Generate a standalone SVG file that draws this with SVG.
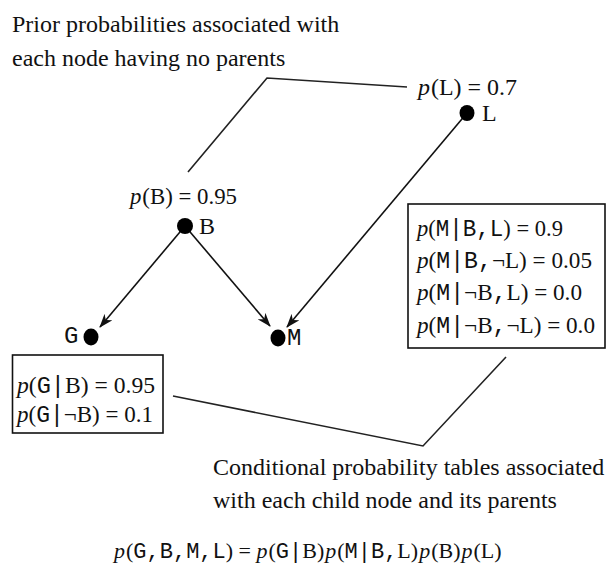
<svg xmlns="http://www.w3.org/2000/svg" width="608" height="577" viewBox="0 0 608 577">
<style>
.s{font-family:"Liberation Serif","Times New Roman",serif;font-size:24px;fill:#111}
.i{font-style:italic}
.t{font-family:"Liberation Mono","Courier New",monospace}
.lead{fill:none;stroke:#222;stroke-width:1.6}
.edge{fill:none;stroke:#111;stroke-width:1.6}
.box{fill:none;stroke:#111;stroke-width:1.6}
.dot{fill:#000}
</style>
<defs>
<marker id="ah" viewBox="0 0 14 10" refX="13" refY="5" markerWidth="14" markerHeight="10" markerUnits="userSpaceOnUse" orient="auto">
<path d="M0,0 L14,5 L0,10 L4,5 z" fill="#111"/>
</marker>
</defs>
<rect width="608" height="577" fill="#fff"/>

<g id="caption-prior">
<text class="s" x="12" y="32">Prior probabilities associated with</text>
<text class="s" x="12" y="66">each node having no parents</text>
</g>

<g id="caption-cpt">
<text class="s" x="213" y="475">Conditional probability tables associated</text>
<text class="s" x="213" y="508">with each child node and its parents</text>
</g>

<g id="connectors">
<polyline class="lead" points="188,172 267,78 407,87"/>
<polyline class="lead" points="173,396 423,446 506,357"/>
<line class="edge" x1="185" y1="226" x2="100" y2="327" marker-end="url(#ah)"/>
<line class="edge" x1="185" y1="226" x2="270" y2="326" marker-end="url(#ah)"/>
<line class="edge" x1="467" y1="113" x2="287" y2="327" marker-end="url(#ah)"/>
</g>

<g id="node-L">
<ellipse class="dot" cx="467" cy="113" rx="7.5" ry="8"/>
<text class="s" x="482" y="121">L</text>
<text class="s" x="418" y="95" textLength="99" lengthAdjust="spacingAndGlyphs"><tspan class="i">p</tspan><tspan dx="1">(L) = 0.7</tspan></text>
</g>

<g id="node-B">
<ellipse class="dot" cx="185" cy="226" rx="8" ry="8"/>
<text class="s" x="199" y="234">B</text>
<text class="s" x="130" y="204" textLength="107" lengthAdjust="spacingAndGlyphs"><tspan class="i">p</tspan><tspan dx="1">(B) = 0.95</tspan></text>
</g>

<g id="node-G">
<ellipse class="dot" cx="91" cy="337" rx="7.5" ry="8.5"/>
<text class="s t" x="64" y="343" font-size="20">G</text>
</g>

<g id="node-M">
<ellipse class="dot" cx="278" cy="338" rx="7.5" ry="8.5"/>
<text class="s t" x="287" y="345" font-size="20">M</text>
</g>

<g id="table-M">
<rect class="box" x="408" y="204" width="197" height="144"/>
<text class="s" x="417" y="236" textLength="146" lengthAdjust="spacingAndGlyphs"><tspan class="i">p</tspan>(<tspan class="t">M|B,L</tspan>) = 0.9</text>
<text class="s" x="417" y="268" textLength="175" lengthAdjust="spacingAndGlyphs"><tspan class="i">p</tspan>(<tspan class="t">M|B,</tspan>¬L) = 0.05</text>
<text class="s" x="417" y="300" textLength="165" lengthAdjust="spacingAndGlyphs"><tspan class="i">p</tspan>(<tspan class="t">M|</tspan>¬B<tspan class="t">,</tspan>L) = 0.0</text>
<text class="s" x="417" y="333" textLength="178" lengthAdjust="spacingAndGlyphs"><tspan class="i">p</tspan>(<tspan class="t">M|</tspan>¬B<tspan class="t">,</tspan>¬L) = 0.0</text>
</g>

<g id="table-G">
<rect class="box" x="12.5" y="355" width="150.5" height="78"/>
<text class="s" x="17" y="393" textLength="138" lengthAdjust="spacingAndGlyphs"><tspan class="i">p</tspan>(<tspan class="t">G|</tspan>B) = 0.95</text>
<text class="s" x="17" y="422" textLength="136" lengthAdjust="spacingAndGlyphs"><tspan class="i">p</tspan>(<tspan class="t">G|</tspan>¬B) = 0.1</text>
</g>

<g id="formula">
<text class="s" x="114" y="558" font-size="22" style="font-size:22px"><tspan class="i">p</tspan><tspan dx="1">(</tspan><tspan class="t">G,B,M,L</tspan>) = <tspan class="i">p</tspan><tspan dx="1">(</tspan><tspan class="t">G|</tspan>B)<tspan class="i" dx="1">p</tspan><tspan dx="1">(</tspan><tspan class="t">M|B,</tspan>L)<tspan class="i" dx="1">p</tspan><tspan dx="1">(B)</tspan><tspan class="i" dx="1">p</tspan><tspan dx="1">(L)</tspan></text>
</g>
</svg>
